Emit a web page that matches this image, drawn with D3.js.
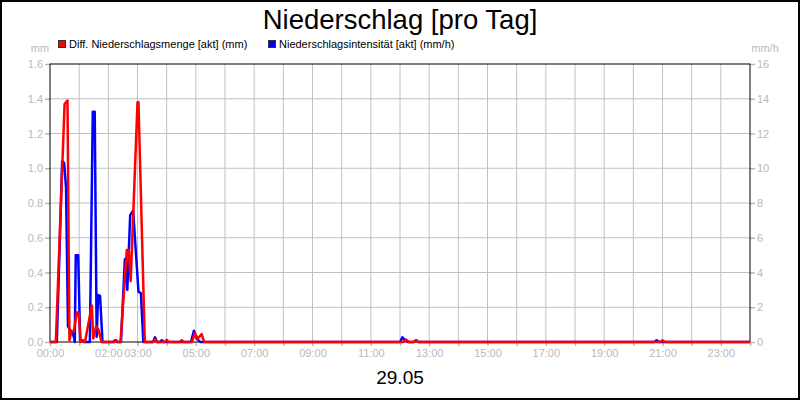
<!DOCTYPE html>
<html>
<head>
<meta charset="utf-8">
<script src="https://cdn.jsdelivr.net/npm/d3@7"></script>
<style>
  body { margin: 0; background: #fff; }
  svg { display: block; font-family: "Liberation Sans", Arial, sans-serif; }
</style>
</head>
<body>
<div id="chart"></div>
<script>
// minutes after midnight, 29.05
var mengeTimes  = [0, 12, 30, 36, 40, 44, 49, 55, 59, 63, 67, 72, 86, 89, 95, 100, 106, 132, 136, 140, 145, 158, 162, 166, 180, 182, 195,
                   212, 216, 220, 236, 240, 244, 267, 271, 275, 292, 298, 304, 312, 317, 727, 732, 738, 748, 753, 758, 1255, 1260, 1265, 1440];
var mengeValues = [0, 0, 1.37, 1.39, 0.01, 0.06, 0.06, 0.17, 0.17, 0, 0.01, 0, 0.21, 0.02, 0.09, 0.07, 0, 0, 0.01, 0, 0, 0.53, 0.53, 0.35, 1.38, 1.38, 0,
                   0, 0.015, 0, 0, 0.012, 0, 0, 0.01, 0, 0, 0.05, 0.02, 0.046, 0, 0, 0.015, 0, 0, 0.01, 0, 0, 0.01, 0, 0];

var intensTimes  = [0, 14, 25, 29, 33, 37, 41, 45, 49, 51, 53, 58, 62, 66, 70, 82, 88, 92, 96, 99, 103, 108, 130, 134, 138, 146, 154, 159, 165, 171, 182, 187, 192,
                    212, 216, 220, 226, 230, 234, 290, 296, 302, 309, 720, 725, 730, 736, 748, 753, 758, 1243, 1248, 1253, 1440];
var intensValues = [0, 0, 10.4, 10.3, 8.9, 0.9, 0.7, 0.6, 0.3, 0, 5.0, 5.0, 0.1, 0.1, 0, 0, 13.25, 13.25, 0.3, 2.7, 2.65, 0, 0, 0.1, 0, 0, 4.76, 3.0, 7.3, 7.56, 2.9, 2.8, 0,
                    0, 0.27, 0, 0, 0.1, 0, 0, 0.65, 0.2, 0, 0, 0.27, 0.1, 0, 0, 0.1, 0, 0, 0.1, 0, 0];

var hourLabels = [0, 2, 3, 5, 7, 9, 11, 13, 15, 17, 19, 21, 23];
var leftTicks  = [0, 0.2, 0.4, 0.6, 0.8, 1.0, 1.2, 1.4, 1.6];
var rightTicks = [0, 2, 4, 6, 8, 10, 12, 14, 16];

var W = 800, H = 400;
var margin = { top: 64, right: 50, bottom: 58, left: 50 };
var width = W - margin.left - margin.right,
    height = H - margin.top - margin.bottom;
var grey = "#b9b9b9";

var svg = d3.select("#chart").append("svg")
    .attr("width", W)
    .attr("height", H);

svg.append("rect")
    .attr("x", 1).attr("y", 1)
    .attr("width", W - 2).attr("height", H - 2)
    .attr("fill", "#fff").attr("stroke", "#000").attr("stroke-width", 2);

// title
svg.append("text")
    .attr("x", W / 2).attr("y", 29)
    .attr("text-anchor", "middle")
    .style("font-size", "27.5px")
    .text("Niederschlag [pro Tag]");

var g = svg.append("g")
    .attr("transform", "translate(" + margin.left + "," + margin.top + ")");

var x = d3.scaleLinear().domain([0, 1440]).range([0, width]);
var yL = d3.scaleLinear().domain([0, 1.6]).range([height, 0]);
var yR = d3.scaleLinear().domain([0, 16]).range([height, 0]);

// grid
g.append("g")
    .selectAll("line")
    .data(d3.range(1, 24))
    .enter().append("line")
    .attr("x1", function(d) { return x(d * 60); })
    .attr("x2", function(d) { return x(d * 60); })
    .attr("y1", 0).attr("y2", height)
    .attr("stroke", "#c0c0c0");

g.append("g")
    .selectAll("line")
    .data(leftTicks.slice(1, -1))
    .enter().append("line")
    .attr("x1", 0).attr("x2", width)
    .attr("y1", function(d) { return yL(d); })
    .attr("y2", function(d) { return yL(d); })
    .attr("stroke", "#c0c0c0");

// axes
function styleAxis(sel) {
    sel.select(".domain").remove();
    sel.selectAll(".tick line").attr("stroke", grey).attr("stroke-width", 1.5);
    sel.selectAll(".tick text").attr("fill", grey).style("font-size", "11px");
}

g.append("g")
    .call(d3.axisLeft(yL).tickValues(leftTicks).tickFormat(d3.format(".1f")).tickSize(5).tickPadding(2))
    .call(styleAxis);

g.append("g")
    .attr("transform", "translate(" + width + ",0)")
    .call(d3.axisRight(yR).tickValues(rightTicks).tickFormat(d3.format("d")).tickSize(5).tickPadding(2))
    .call(styleAxis);

g.append("g")
    .attr("transform", "translate(0," + height + ")")
    .call(d3.axisBottom(x).tickValues(d3.range(0, 25).map(function(h) { return h * 60; })).tickFormat("").tickSize(4))
    .call(styleAxis);

g.append("g")
    .attr("transform", "translate(0," + height + ")")
    .call(d3.axisBottom(x).tickValues(hourLabels.map(function(h) { return h * 60; }))
        .tickFormat(function(d) { return d3.format("02d")(d / 60) + ":00"; })
        .tickSize(0).tickPadding(7))
    .call(styleAxis);

// plot frame
g.append("rect")
    .attr("width", width).attr("height", height)
    .attr("fill", "none").attr("stroke", "#000");

// units
svg.append("text").attr("x", 40).attr("y", 52).attr("text-anchor", "middle")
    .attr("fill", grey).style("font-size", "11px").text("mm");
svg.append("text").attr("x", 765).attr("y", 52).attr("text-anchor", "middle")
    .attr("fill", grey).style("font-size", "11px").text("mm/h");

// series
var intensData = intensTimes.map(function(t, i) { return [t, intensValues[i]]; });
var mengeData = mengeTimes.map(function(t, i) { return [t, mengeValues[i]]; });

g.append("clipPath").attr("id", "plotclip")
    .append("rect").attr("x", -2).attr("y", 0).attr("width", width + 4).attr("height", height + 2);

g.append("path")
    .datum(intensData)
    .attr("clip-path", "url(#plotclip)")
    .attr("fill", "none")
    .attr("stroke", "#0000ff")
    .attr("stroke-width", 2.5)
    .attr("stroke-linejoin", "round")
    .attr("d", d3.line().x(function(d) { return x(d[0]); }).y(function(d) { return yR(d[1]); }));

g.append("path")
    .datum(mengeData)
    .attr("clip-path", "url(#plotclip)")
    .attr("fill", "none")
    .attr("stroke", "#ff0000")
    .attr("stroke-width", 2.5)
    .attr("stroke-linejoin", "round")
    .attr("d", d3.line().x(function(d) { return x(d[0]); }).y(function(d) { return yL(d[1]); }));

// legend
var legend = [
    { label: "Diff. Niederschlagsmenge [akt] (mm)", color: "#ff0000", x: 58 },
    { label: "Niederschlagsintensität [akt] (mm/h)", color: "#0000ff", x: 268 }
];
var lg = svg.selectAll(".legend").data(legend).enter().append("g")
    .attr("transform", function(d) { return "translate(" + d.x + ",40)"; });
lg.append("rect")
    .attr("x", 0.5).attr("y", 0.5).attr("width", 7).attr("height", 7)
    .attr("fill", function(d) { return d.color; })
    .attr("stroke", "#333");
lg.append("text")
    .attr("x", 11).attr("y", 8)
    .style("font-size", "11px")
    .text(function(d) { return d.label; });

// date
svg.append("text")
    .attr("x", W / 2).attr("y", 384)
    .attr("text-anchor", "middle")
    .style("font-size", "19px")
    .text("29.05");
</script>
</body>
</html>
